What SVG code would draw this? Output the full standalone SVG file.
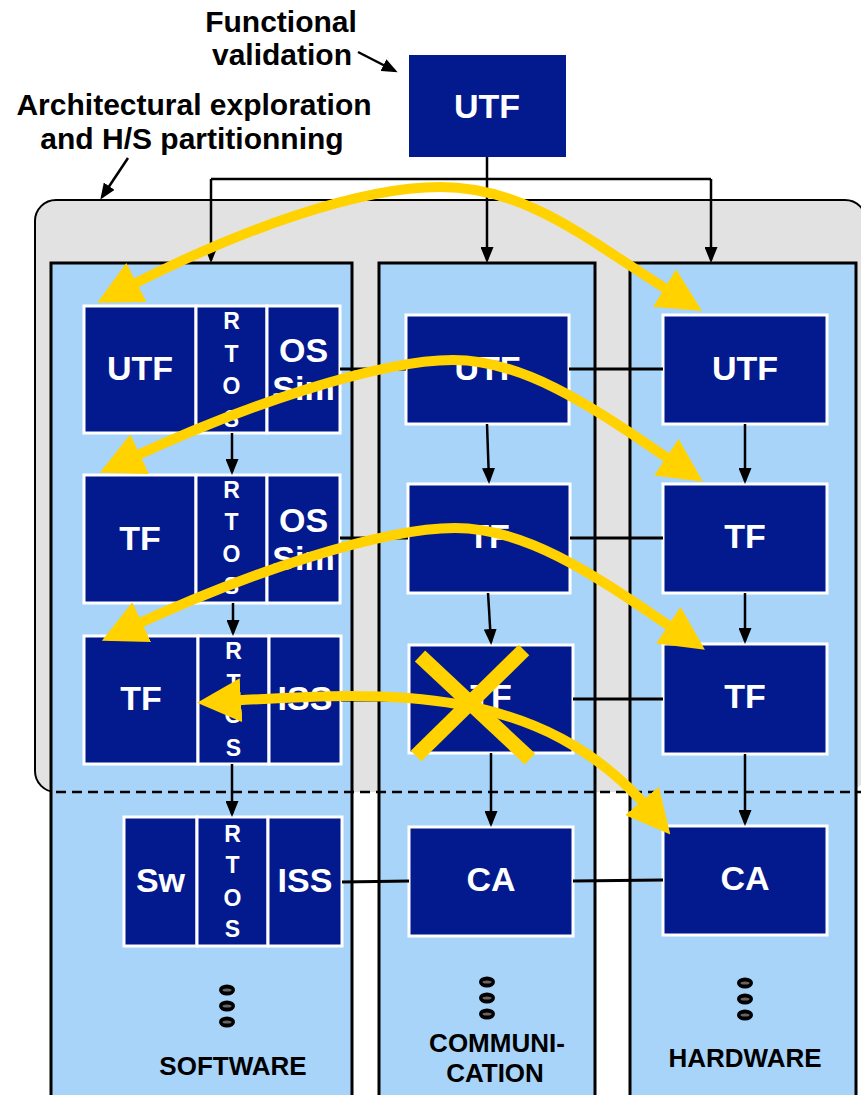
<svg xmlns="http://www.w3.org/2000/svg" width="861" height="1095" viewBox="0 0 861 1095">
<style>
.lbl{font-family:"Liberation Sans",Arial,sans-serif;font-weight:bold;fill:#000}
.bx{fill:#03198E;stroke:#fff;stroke-width:3}
.bt{font-family:"Liberation Sans",Arial,sans-serif;font-weight:bold;font-size:34px;fill:#fff;text-anchor:middle}
.rt{font-family:"Liberation Sans",Arial,sans-serif;font-weight:bold;font-size:23px;fill:#fff;text-anchor:middle}
.col{fill:#A8D4FA;stroke:#000;stroke-width:3}
.cn{fill:none;stroke:#000;stroke-width:2.5}
.ca{fill:none;stroke:#000;stroke-width:2.5;marker-end:url(#ah)}
.yl{fill:none;stroke:#FFD200;stroke-width:10;marker-start:url(#ya);marker-end:url(#ya)}
.ye{fill:none;stroke:#FFD200;stroke-width:10;marker-end:url(#ya)}
.yx{stroke:#FFD200;stroke-width:15}
.dot{fill:#000}
.dotc{fill:#666}
</style>
<defs>
<marker id="ah" viewBox="0 0 16 13" refX="13" refY="6.5" markerWidth="16" markerHeight="13" markerUnits="userSpaceOnUse" orient="auto"><path d="M0,0 L16,6.5 L0,13 z" fill="#000"/></marker>
<marker id="ya" viewBox="-14 -22 44 44" refX="0" refY="0" markerWidth="44" markerHeight="44" markerUnits="userSpaceOnUse" orient="auto-start-reverse"><path d="M-14,-22 L30,0 L-14,22 z" fill="#FFD200"/></marker>
</defs>
<rect width="861" height="1095" fill="#fff"/>

<g id="labels">
<text class="lbl" font-size="30" text-anchor="middle" x="281" y="32">Functional</text>
<text class="lbl" font-size="30" text-anchor="middle" x="282" y="65">validation</text>
<text class="lbl" font-size="30" text-anchor="middle" x="194" y="115">Architectural exploration</text>
<text class="lbl" font-size="30" text-anchor="middle" x="192" y="149">and H/S partitionning</text>
</g>

<g id="exploration-area">
<rect x="35" y="200" width="831" height="592" rx="21" ry="21" fill="#E2E2E2"/>
<path d="M56,792 A21,21 0 0 1 35,771 L35,221 A21,21 0 0 1 56,200 L845,200 A21,21 0 0 1 866,221" fill="none" stroke="#000" stroke-width="2"/>
</g>

<g id="col-software"><rect class="col" x="51" y="263" width="301" height="850"/></g>
<g id="col-communication"><rect class="col" x="379" y="263" width="216" height="850"/></g>
<g id="col-hardware"><rect class="col" x="630" y="263" width="226" height="850"/></g>

<g id="top-utf">
<rect x="409" y="55" width="157" height="102" fill="#03198E"/>
<text class="bt" x="487" y="118">UTF</text>
</g>

<g id="sw-row1">
<rect class="bx" x="84" y="306" width="112" height="127"/>
<rect class="bx" x="196" y="306" width="71" height="127"/>
<rect class="bx" x="267" y="306" width="73" height="127"/>
<text class="bt" x="140" y="380">UTF</text>
<text class="rt" x="231.5" y="329">R</text><text class="rt" x="231.5" y="361.5">T</text><text class="rt" x="231.5" y="394">O</text><text class="rt" x="231.5" y="426.5">S</text>
<text class="bt" x="303.5" y="362">OS</text><text class="bt" x="303.5" y="400">Sim</text>
</g>
<g id="sw-row2">
<rect class="bx" x="84" y="475" width="112" height="128"/>
<rect class="bx" x="196" y="475" width="71" height="128"/>
<rect class="bx" x="267" y="475" width="73" height="128"/>
<text class="bt" x="140" y="550">TF</text>
<text class="rt" x="231.5" y="498">R</text><text class="rt" x="231.5" y="530">T</text><text class="rt" x="231.5" y="562">O</text><text class="rt" x="231.5" y="594">S</text>
<text class="bt" x="303.5" y="532">OS</text><text class="bt" x="303.5" y="570">Sim</text>
</g>
<g id="sw-row3">
<rect class="bx" x="84" y="636" width="114" height="128"/>
<rect class="bx" x="198" y="636" width="71" height="128"/>
<rect class="bx" x="269" y="636" width="72" height="128"/>
<text class="bt" x="141" y="710">TF</text>
<text class="rt" x="233.5" y="659">R</text><text class="rt" x="233.5" y="691">T</text><text class="rt" x="233.5" y="723">O</text><text class="rt" x="233.5" y="756">S</text>
<text class="bt" x="305" y="710">ISS</text>
</g>
<g id="sw-row4">
<rect class="bx" x="124" y="817" width="73" height="129"/>
<rect class="bx" x="197" y="817" width="71" height="129"/>
<rect class="bx" x="268" y="817" width="74" height="129"/>
<text class="bt" x="160.5" y="892">Sw</text>
<text class="rt" x="232.5" y="842">R</text><text class="rt" x="232.5" y="873">T</text><text class="rt" x="232.5" y="906">O</text><text class="rt" x="232.5" y="937">S</text>
<text class="bt" x="305" y="892">ISS</text>
</g>

<g id="com-utf"><rect class="bx" x="406" y="315" width="163" height="109"/><text class="bt" x="487.5" y="380">UTF</text></g>
<g id="com-tf1"><rect class="bx" x="408" y="484" width="162" height="109"/><text class="bt" x="489" y="548">TF</text></g>
<g id="com-tf2"><rect class="bx" x="409" y="645" width="164" height="108"/><text class="bt" x="491" y="708">TF</text></g>
<g id="com-ca"><rect class="bx" x="409" y="827" width="164" height="109"/><text class="bt" x="491" y="891">CA</text></g>

<g id="hw-utf"><rect class="bx" x="663" y="315" width="164" height="109"/><text class="bt" x="745" y="380">UTF</text></g>
<g id="hw-tf1"><rect class="bx" x="663" y="484" width="164" height="109"/><text class="bt" x="745" y="548">TF</text></g>
<g id="hw-tf2"><rect class="bx" x="663" y="644" width="164" height="110"/><text class="bt" x="745" y="708">TF</text></g>
<g id="hw-ca"><rect class="bx" x="663" y="826" width="164" height="109"/><text class="bt" x="745" y="890">CA</text></g>

<g id="dots">
<ellipse class="dot" cx="227" cy="990" rx="8" ry="5.5"/><ellipse class="dotc" cx="227" cy="990" rx="4.5" ry="1.6"/>
<ellipse class="dot" cx="227" cy="1006" rx="8" ry="5.5"/><ellipse class="dotc" cx="227" cy="1006" rx="4.5" ry="1.6"/>
<ellipse class="dot" cx="227" cy="1022" rx="8" ry="5.5"/><ellipse class="dotc" cx="227" cy="1022" rx="4.5" ry="1.6"/>
<ellipse class="dot" cx="487" cy="982" rx="8" ry="5.5"/><ellipse class="dotc" cx="487" cy="982" rx="4.5" ry="1.6"/>
<ellipse class="dot" cx="487" cy="998" rx="8" ry="5.5"/><ellipse class="dotc" cx="487" cy="998" rx="4.5" ry="1.6"/>
<ellipse class="dot" cx="487" cy="1014" rx="8" ry="5.5"/><ellipse class="dotc" cx="487" cy="1014" rx="4.5" ry="1.6"/>
<ellipse class="dot" cx="745" cy="983" rx="8" ry="5.5"/><ellipse class="dotc" cx="745" cy="983" rx="4.5" ry="1.6"/>
<ellipse class="dot" cx="745" cy="999" rx="8" ry="5.5"/><ellipse class="dotc" cx="745" cy="999" rx="4.5" ry="1.6"/>
<ellipse class="dot" cx="745" cy="1015" rx="8" ry="5.5"/><ellipse class="dotc" cx="745" cy="1015" rx="4.5" ry="1.6"/>
</g>

<g id="col-labels">
<text class="lbl" font-size="26" text-anchor="middle" x="233" y="1075">SOFTWARE</text>
<text class="lbl" font-size="26" text-anchor="middle" x="497" y="1052">COMMUNI-</text>
<text class="lbl" font-size="26" text-anchor="middle" x="495" y="1082">CATION</text>
<text class="lbl" font-size="26" text-anchor="middle" x="745" y="1067">HARDWARE</text>
</g>

<g id="connectors">
<path class="ca" d="M358,52 L395,71"/>
<path class="ca" d="M128,158 L102,197"/>
<path class="ca" d="M487,157 L487,260"/>
<path class="cn" d="M211,179 L711,179"/>
<path class="ca" d="M211,179 L211,260"/>
<path class="ca" d="M711,179 L711,260"/>
<path class="ca" d="M232,433 L232,472"/>
<path class="ca" d="M233,603 L233,633"/>
<path class="ca" d="M232,764 L232,814"/>
<path class="ca" d="M487,424 L489,481"/>
<path class="ca" d="M488,593 L491,642"/>
<path class="ca" d="M491,753 L491,824"/>
<path class="ca" d="M745,424 L745,481"/>
<path class="ca" d="M745,593 L745,641"/>
<path class="ca" d="M745,754 L745,823"/>
<g stroke="#000" stroke-width="3" fill="none">
<path d="M340,369 L406,369 M569,369 L663,369"/>
<path d="M340,538 L408,538 M570,538 L663,538"/>
<path d="M341,700 L409,700 M573,699 L663,699"/>
<path d="M342,882 L409,881 M573,881 L663,880"/>
</g>
</g>

<path d="M56,792 L861,792" stroke="#000" stroke-width="2.5" stroke-dasharray="10 6" fill="none"/>

<g id="yellow-arrows">
<path class="yl" d="M124,289 C240,229 360,187 440,187 C530,187 591,243 676.5,295.4"/>
<path class="yl" d="M127,460 C244,405 380,360 453,360 C530,360 603,415 678,465"/>
<path class="yl" d="M129,628 C246,573 382,528 455,528 C532,528 605,583 680,633"/>
<path class="yl" d="M227,701 C380,692 540,680 651,811.6"/>
<line class="yx" x1="420" y1="656" x2="530" y2="759"/>
<line class="yx" x1="524" y1="650" x2="416" y2="756"/>
</g>
</svg>
